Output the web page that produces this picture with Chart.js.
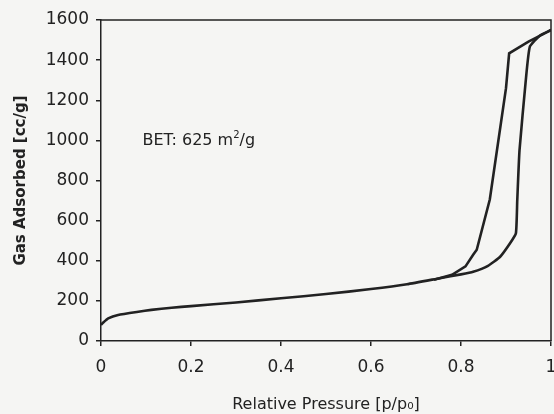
<!DOCTYPE html>
<html>
<head>
<meta charset="utf-8">
<title>Nitrogen isotherm</title>
<script src="https://cdn.jsdelivr.net/npm/chart.js@4/dist/chart.umd.min.js"></script>
<style>
  html, body { margin: 0; padding: 0; background: #f5f5f3; }
  #wrap { width: 554px; height: 414px; position: relative; }
</style>
</head>
<body>
<div id="wrap"><canvas id="isotherm"></canvas></div>
<script>
// Adsorption branch (lower curve)
const adsX = [0, 0.005, 0.016, 0.038, 0.083, 0.112, 0.157, 0.2, 0.3, 0.4, 0.5, 0.6, 0.68, 0.753, 0.8, 0.827, 0.86, 0.887, 0.909, 0.922, 0.925, 0.93, 0.944, 0.953, 0.975, 1.0];
const adsY = [80, 92, 113, 130, 146, 155, 166, 174, 192, 213, 234, 259, 283, 313, 332, 345, 375, 420, 487, 537, 700, 950, 1300, 1467, 1522, 1550];

// Desorption branch (upper curve of the hysteresis loop)
const desX = [0.74, 0.78, 0.81, 0.827, 0.835, 0.864, 0.9, 0.907, 0.95, 1.0];
const desY = [305, 330, 372, 430, 455, 705, 1260, 1434, 1492, 1550];

const xTicks = [0, 0.2, 0.4, 0.6, 0.8, 1];
const yTicks = [0, 200, 400, 600, 800, 1000, 1200, 1400, 1600];

const ink = '#222';
const face = '"DejaVu Sans", Arial, sans-serif';

function toPoints(xs, ys) {
  return xs.map((x, i) => ({ x: x, y: ys[i] }));
}

// box around the plot + BET label
const framePlugin = {
  id: 'frame',
  afterDraw(chart) {
    const { ctx, chartArea, scales } = chart;
    ctx.save();
    ctx.strokeStyle = ink;
    ctx.lineWidth = 1.5;
    ctx.beginPath();
    ctx.moveTo(chartArea.left, chartArea.top);
    ctx.lineTo(chartArea.right, chartArea.top);
    ctx.lineTo(chartArea.right, chartArea.bottom);
    ctx.stroke();

    ctx.fillStyle = ink;
    ctx.textBaseline = 'alphabetic';
    const tx = scales.x.getPixelForValue(0.092);
    const ty = scales.y.getPixelForValue(975);
    const main = 'BET: 625 m';
    ctx.font = '16px ' + face;
    ctx.fillText(main, tx, ty);
    let w = ctx.measureText(main).width;
    ctx.font = '10px ' + face;
    ctx.fillText('2', tx + w, ty - 7);
    w += ctx.measureText('2').width;
    ctx.font = '16px ' + face;
    ctx.fillText('/g', tx + w, ty);
    ctx.restore();
  }
};

const ctx = document.getElementById('isotherm').getContext('2d');
new Chart(ctx, {
  type: 'line',
  data: {
    datasets: [
      {
        label: 'Adsorption',
        data: toPoints(adsX, adsY),
        borderColor: ink,
        borderWidth: 2.6,
        pointRadius: 0,
        tension: 0.15,
        fill: false
      },
      {
        label: 'Desorption',
        data: toPoints(desX, desY),
        borderColor: ink,
        borderWidth: 2.6,
        pointRadius: 0,
        tension: 0,
        fill: false
      }
    ]
  },
  options: {
    responsive: true,
    maintainAspectRatio: false,
    animation: false,
    layout: { padding: { top: 20, right: 3, left: 0, bottom: 0 } },
    plugins: {
      legend: { display: false },
      tooltip: { enabled: false }
    },
    scales: {
      x: {
        type: 'linear',
        min: 0,
        max: 1,
        afterBuildTicks: axis => { axis.ticks = xTicks.map(v => ({ value: v })); },
        afterFit: axis => {
          axis.height = 73;
          // let the last label hang over the edge like in the original
          axis.paddingRight = 0;
          axis.paddingLeft = 0;
        },
        grid: { display: true, drawOnChartArea: false, tickLength: 5, color: ink, lineWidth: 1.5 },
        border: { display: true, color: ink, width: 1.5 },
        ticks: {
          color: ink,
          padding: 11,
          font: { family: face, size: 17 },
          callback: v => String(v)
        },
        title: {
          display: true,
          text: 'Relative Pressure [p/p₀]',
          color: ink,
          padding: { top: 4, bottom: 0 },
          font: { family: face, size: 16 }
        }
      },
      y: {
        type: 'linear',
        min: 0,
        max: 1600,
        afterBuildTicks: axis => { axis.ticks = yTicks.map(v => ({ value: v })); },
        afterFit: axis => { axis.width = 101; },
        grid: { display: true, drawOnChartArea: false, tickLength: 5, color: ink, lineWidth: 1.5 },
        border: { display: true, color: ink, width: 1.5 },
        ticks: {
          color: ink,
          padding: 7,
          font: { family: face, size: 17 },
          callback: v => String(v)
        },
        title: {
          display: true,
          text: 'Gas Adsorbed [cc/g]',
          color: ink,
          padding: { top: 12, bottom: 0 },
          font: { family: face, size: 15, weight: 'bold' }
        }
      }
    }
  },
  plugins: [framePlugin]
});
</script>
</body>
</html>
